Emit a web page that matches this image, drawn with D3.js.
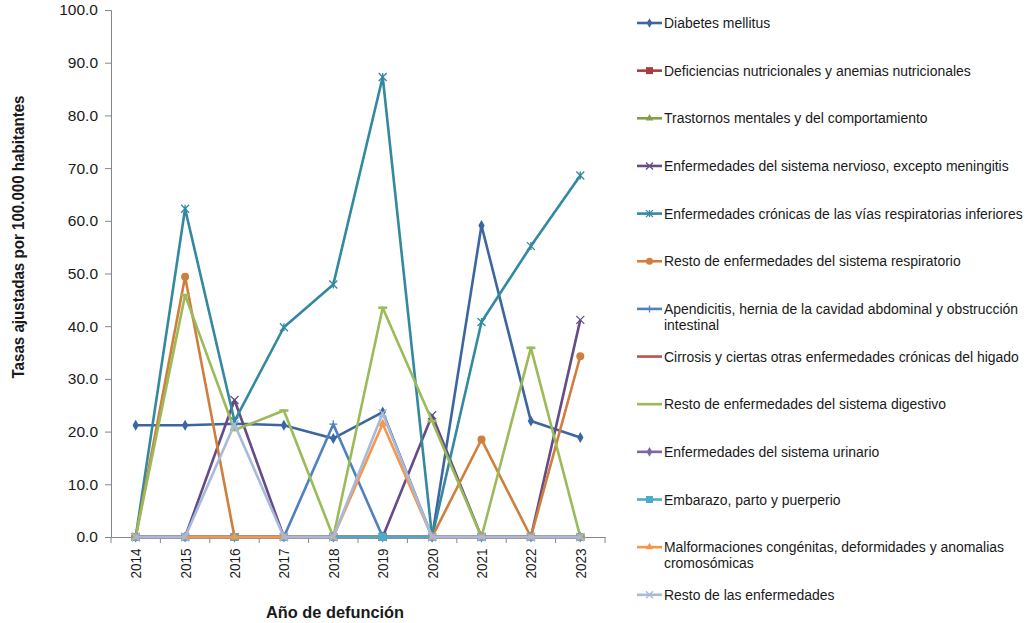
<!DOCTYPE html>
<html>
<head>
<meta charset="utf-8">
<script src="https://cdn.jsdelivr.net/npm/d3@7"></script>
<style>
  body { margin: 0; background: #fff; }
  text { font-family: "Liberation Sans", Arial, sans-serif; fill: #1a1a1a; }
</style>
</head>
<body>
<svg id="chart" width="1029" height="623"></svg>
<script>
const years = ["2014", "2015", "2016", "2017", "2018", "2019", "2020", "2021", "2022", "2023"];

const seriesNames = [
    "Diabetes mellitus",
    "Deficiencias nutricionales y anemias nutricionales",
    "Trastornos mentales y del comportamiento",
    "Enfermedades del sistema nervioso, excepto meningitis",
    "Enfermedades crónicas de las vías respiratorias inferiores",
    "Resto de enfermedades del sistema respiratorio",
    "Apendicitis, hernia de la cavidad abdominal y obstrucción intestinal",
    "Cirrosis y ciertas otras enfermedades crónicas del higado",
    "Resto de enfermedades del sistema digestivo",
    "Enfermedades del sistema urinario",
    "Embarazo, parto y puerperio",
    "Malformaciones congénitas, deformidades y anomalias cromosómicas",
    "Resto de las enfermedades"
];

const diabetes = [21.2, 21.2, 21.5, 21.2, 18.7, 23.7, 0, 59.1, 22.0, 18.9];
const deficiencias = [0, 0, 0, 0, 0, 0, 0, 0, 0, 0];
const trastornos = [0, 0, 0, 0, 0, 0, 0, 0, 0, 0];
const nervioso = [0, 0, 26.0, 0, 0, 0, 23.1, 0, 0, 41.2];
const cronicasResp = [0, 62.3, 22.0, 39.8, 47.9, 87.3, 0, 40.8, 55.2, 68.6];
const restoResp = [0, 49.4, 0, 0, 0, 0, 0, 18.5, 0, 34.3];
const apendicitis = [0, 0, 0, 0, 21.4, 0, 0, 0, 0, 0];
const cirrosis = [0, 0, 0, 0, 0, 0, 0, 0, 0, 0];
const restoDigestivo = [0, 45.9, 20.3, 24.0, 0, 43.5, 22.0, 0, 35.9, 0];
const urinario = [0, 0, 0, 0, 0, 0, 0, 0, 0, 0];
const embarazo = [0, 0, 0, 0, 0, 0, 0, 0, 0, 0];
const malformaciones = [0, 0, 0, 0, 0, 21.5, 0, 0, 0, 0];
const restoEnfermedades = [0, 0, 21.4, 0, 0, 23.5, 0, 0, 0, 0];

const seriesValues = [diabetes, deficiencias, trastornos, nervioso, cronicasResp, restoResp,
    apendicitis, cirrosis, restoDigestivo, urinario, embarazo, malformaciones, restoEnfermedades];

const colors = ["#3c66a2", "#a3403d", "#7fa04a", "#654c86", "#33899f", "#d07e3c",
    "#4f81bd", "#c0504d", "#9bbb59", "#8064a2", "#4bacc6", "#f79646", "#a8badc"];
const markers = ["diamond", "square", "triangle", "x", "star", "circle",
    "plus", "dash", "dash", "diamond", "square", "triangle", "x"];

const yTicks = [0, 10, 20, 30, 40, 50, 60, 70, 80, 90, 100];

const svg = d3.select("#chart");
const plotLeft = 111, plotRight = 605, plotTop = 10, plotBottom = 537;

const x = d3.scaleBand().domain(years).range([plotLeft, plotRight]);
const y = d3.scaleLinear().domain([0, 100]).range([plotBottom, plotTop]);
const xc = d => x(d) + x.bandwidth() / 2;

// axes
const axisColor = "#868686";
const yAxis = svg.append("g")
    .attr("transform", `translate(${plotLeft},0)`)
    .call(d3.axisLeft(y).tickValues(yTicks).tickFormat(d3.format(".1f")).tickSize(6).tickPadding(7));
yAxis.selectAll("line, path").attr("stroke", axisColor);
yAxis.selectAll("text").style("font-size", "15.5px").attr("fill", "#1a1a1a").attr("font-family", null);

const xAxis = svg.append("g")
    .attr("transform", `translate(0,${plotBottom})`)
    .call(d3.axisBottom(x).tickSize(0).tickPadding(0));
xAxis.select("path").attr("stroke", axisColor);
xAxis.selectAll("text")
    .attr("font-family", null)
    .style("font-size", "15.5px")
    .attr("fill", "#1a1a1a")
    .attr("text-anchor", "end")
    .attr("dy", null)
    .attr("transform", "translate(5.5,11.5) rotate(-90)")
    .attr("textLength", 30)
    .attr("lengthAdjust", "spacingAndGlyphs");

// ticks between categories
xAxis.selectAll(".sep")
    .data(years.concat(["end"]))
    .join("line")
    .attr("class", "sep")
    .attr("x1", (d, i) => plotLeft + i * x.step())
    .attr("x2", (d, i) => plotLeft + i * x.step())
    .attr("y1", 0).attr("y2", 6)
    .attr("stroke", axisColor);

// axis titles
svg.append("text")
    .attr("x", 335).attr("y", 618)
    .attr("text-anchor", "middle")
    .style("font-size", "16px").style("font-weight", "bold")
    .attr("textLength", 138).attr("lengthAdjust", "spacingAndGlyphs")
    .text("Año de defunción");

svg.append("text")
    .attr("transform", "translate(24,237) rotate(-90)")
    .attr("text-anchor", "middle")
    .style("font-size", "16px").style("font-weight", "bold")
    .attr("textLength", 283).attr("lengthAdjust", "spacingAndGlyphs")
    .text("Tasas ajustadas por 100.000 habitantes");

// marker drawing
function drawMarker(g, type, color, size) {
    const s = size;
    if (type === "diamond") {
        g.append("path").attr("d", d3.symbol(d3.symbolDiamond, s * s * 0.55)()).attr("fill", color);
    } else if (type === "square") {
        g.append("rect").attr("x", -s / 2).attr("y", -s / 2).attr("width", s).attr("height", s).attr("fill", color);
    } else if (type === "triangle") {
        g.append("path").attr("d", d3.symbol(d3.symbolTriangle, s * s * 0.5)()).attr("fill", color);
    } else if (type === "circle") {
        g.append("circle").attr("r", s / 2).attr("fill", color);
    } else {
        const h = s / 2;
        let d = "";
        if (type === "x" || type === "star") d += `M${-h},${-h}L${h},${h}M${-h},${h}L${h},${-h}`;
        if (type === "star") d += `M0,${-h}L0,${h}`;
        if (type === "plus") d += `M${-h},0L${h},0M0,${-h}L0,${h}`;
        if (type === "dash") d += `M${-h},0L${h},0`;
        g.append("path").attr("d", d).attr("stroke", color)
            .attr("stroke-width", type === "dash" ? 2.6 : 1.3).attr("fill", "none");
    }
}

// series lines
const line = d3.line().x((d, i) => xc(years[i])).y(d => y(d));

seriesValues.forEach((vals, k) => {
    const g = svg.append("g");
    g.append("path")
        .datum(vals)
        .attr("d", line)
        .attr("fill", "none")
        .attr("stroke", colors[k])
        .attr("stroke-width", 2.6)
        .attr("stroke-linejoin", "round");
    vals.forEach((v, i) => {
        const m = g.append("g").attr("transform", `translate(${xc(years[i])},${y(v)})`);
        drawMarker(m, markers[k], colors[k], markers[k] === "dash" ? 9 : 8);
    });
});

// legend
const legend = svg.append("g");
const scaleX = 0.93;
const maxW = 368 / scaleX;
seriesNames.forEach((name, k) => {
    const ly = 23 + k * 47.65;
    legend.append("line")
        .attr("x1", 637).attr("x2", 662).attr("y1", ly).attr("y2", ly)
        .attr("stroke", colors[k]).attr("stroke-width", 2.6);
    const m = legend.append("g").attr("transform", `translate(649.5,${ly})`);
    if (markers[k] !== "dash") drawMarker(m, markers[k], colors[k], 7);

    const t = legend.append("text")
        .attr("transform", `translate(664,${ly + 5}) scale(${scaleX},1)`)
        .style("font-size", "15px");
    // wrap long labels
    const words = name.split(" ");
    let lineTxt = [];
    let lineNo = 0;
    let tspan = t.append("tspan").attr("x", 0).attr("y", 0);
    words.forEach(w => {
        lineTxt.push(w);
        tspan.text(lineTxt.join(" "));
        if (tspan.node().getComputedTextLength() > maxW && lineTxt.length > 1) {
            lineTxt.pop();
            tspan.text(lineTxt.join(" "));
            lineTxt = [w];
            lineNo++;
            tspan = t.append("tspan").attr("x", 0).attr("y", lineNo * 16).text(w);
        }
    });
});
</script>
</body>
</html>
